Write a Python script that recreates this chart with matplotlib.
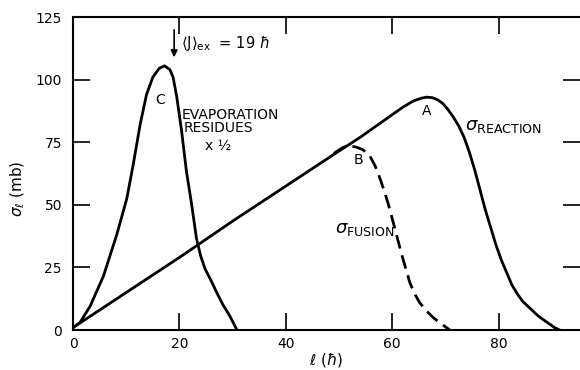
import matplotlib.pyplot as plt

plt.rcParams['font.family'] = 'DejaVu Sans'
plt.rcParams['mathtext.fontset'] = 'dejavusans'

# partial-wave cross sections vs angular momentum l (units of hbar)
l_reac = [0, 10, 20, 30, 40, 50, 54, 57, 60, 62, 64, 65.5, 66.5, 67.5, 68.5, 69.5, 70.5,
          71.5, 72.5, 73.5, 74.5, 75.5, 76.5, 77.5, 78.5, 79.5, 80.5, 81.5, 82.5, 83.5,
          84.5, 85.5, 86.5, 87.5, 88.5, 89.5, 90.5, 91.5]
s_reac = [1, 15, 29, 43.5, 57.5, 71.5, 77, 81.5, 86, 89, 91.5, 92.6, 93, 92.8, 92, 90.5, 88,
          85, 81.5, 77, 71, 64, 56, 48, 41, 34, 28, 23, 18, 14.5, 11.5, 9.5, 7.5, 5.5, 4,
          2.5, 1, 0]

l_fus = [49, 50.8, 52, 53.3, 54.5, 55.8, 56.8, 57.7, 58.5, 59.3, 60.5, 61.8, 63.3, 64.2,
         65.2, 66.5, 67.7, 69, 70.2, 70.8]
s_fus = [70.5, 73, 73.6, 73, 72, 69.5, 65.5, 60.5, 55.5, 50, 40.5, 30, 19, 14.5, 10.8,
         7.5, 5, 2.8, 1, 0]

l_evap = [0, 1.3, 3.2, 5.7, 8.2, 10.1, 11.3, 12.6, 13.8, 15, 16.2, 17.2, 18.2, 18.8,
          19.5, 20.4, 21.3, 22.3, 23.2, 24, 24.8, 26, 27, 28.2, 29.5, 30.8]
s_evap = [1, 3, 9.5, 21.5, 38, 52.5, 66, 82, 94, 101, 104.5, 105.5, 104, 101, 93, 79.5,
          63.5, 50, 36.5, 29.5, 24.5, 19.5, 15, 10, 5.5, 0]

j_ex = 19

fig = plt.figure(figsize=(5.8, 3.7), dpi=100)
ax = fig.add_axes([0.126, 0.108, 0.874, 0.846])

line_kw = dict(color='black', lw=2, solid_capstyle='round', solid_joinstyle='round')
ax.plot(l_reac, s_reac, **line_kw)
ax.plot(l_fus, s_fus, color='black', lw=2, dashes=(5, 2.5))
ax.plot(l_evap, s_evap, **line_kw)

ax.set_xlim(0, 95.3)
ax.set_ylim(0, 125)
ax.set_xticks([0, 20, 40, 60, 80])
ax.set_yticks([0, 25, 50, 75, 100, 125])
ax.tick_params(direction='in', length=12, width=1.2, labelsize=10, pad=5,
               top=True, right=True)
ax.tick_params(axis='y', pad=8)
for side in ['left', 'bottom', 'top']:
    ax.spines[side].set_linewidth(1.5)
ax.spines['right'].set_visible(False)

ax.set_xlabel(r'$\ell$ ($\hbar$)', fontsize=11, labelpad=0)
ax.set_ylabel(r'$\sigma_\ell$ (mb)', fontsize=11)
ax.yaxis.set_label_coords(-0.09, 0.45)

# curve labels
ax.text(16.4, 92, 'C', fontsize=10, ha='center', va='center')
ax.text(20.5, 86, 'EVAPORATION', fontsize=10, ha='left', va='center')
ax.text(20.7, 80.5, 'RESIDUES', fontsize=10, ha='left', va='center')
ax.text(24.8, 73.5, 'x ½', fontsize=10, ha='left', va='center')
ax.text(66.5, 87.5, 'A', fontsize=10, ha='center', va='center')
ax.text(53.6, 68, 'B', fontsize=10, ha='center', va='center')
ax.text(73.6, 81.5, r'$\sigma_{\mathrm{REACTION}}$', fontsize=13, ha='left', va='center')
ax.text(49.2, 40.5, r'$\sigma_{\mathrm{FUSION}}$', fontsize=13, ha='left', va='center')

# mean angular momentum of the evaporation residues
ax.annotate('', xy=(j_ex, 107.8), xytext=(j_ex, 121),
            arrowprops=dict(arrowstyle='-|>', color='black', lw=1.2, mutation_scale=10))
ax.text(j_ex + 1.3, 114.5, r'$\langle$J$\rangle_{\mathrm{ex}}$  = 19 $\hbar$', fontsize=10.5,
        ha='left', va='center')

fig.savefig('out.png', dpi=100)
